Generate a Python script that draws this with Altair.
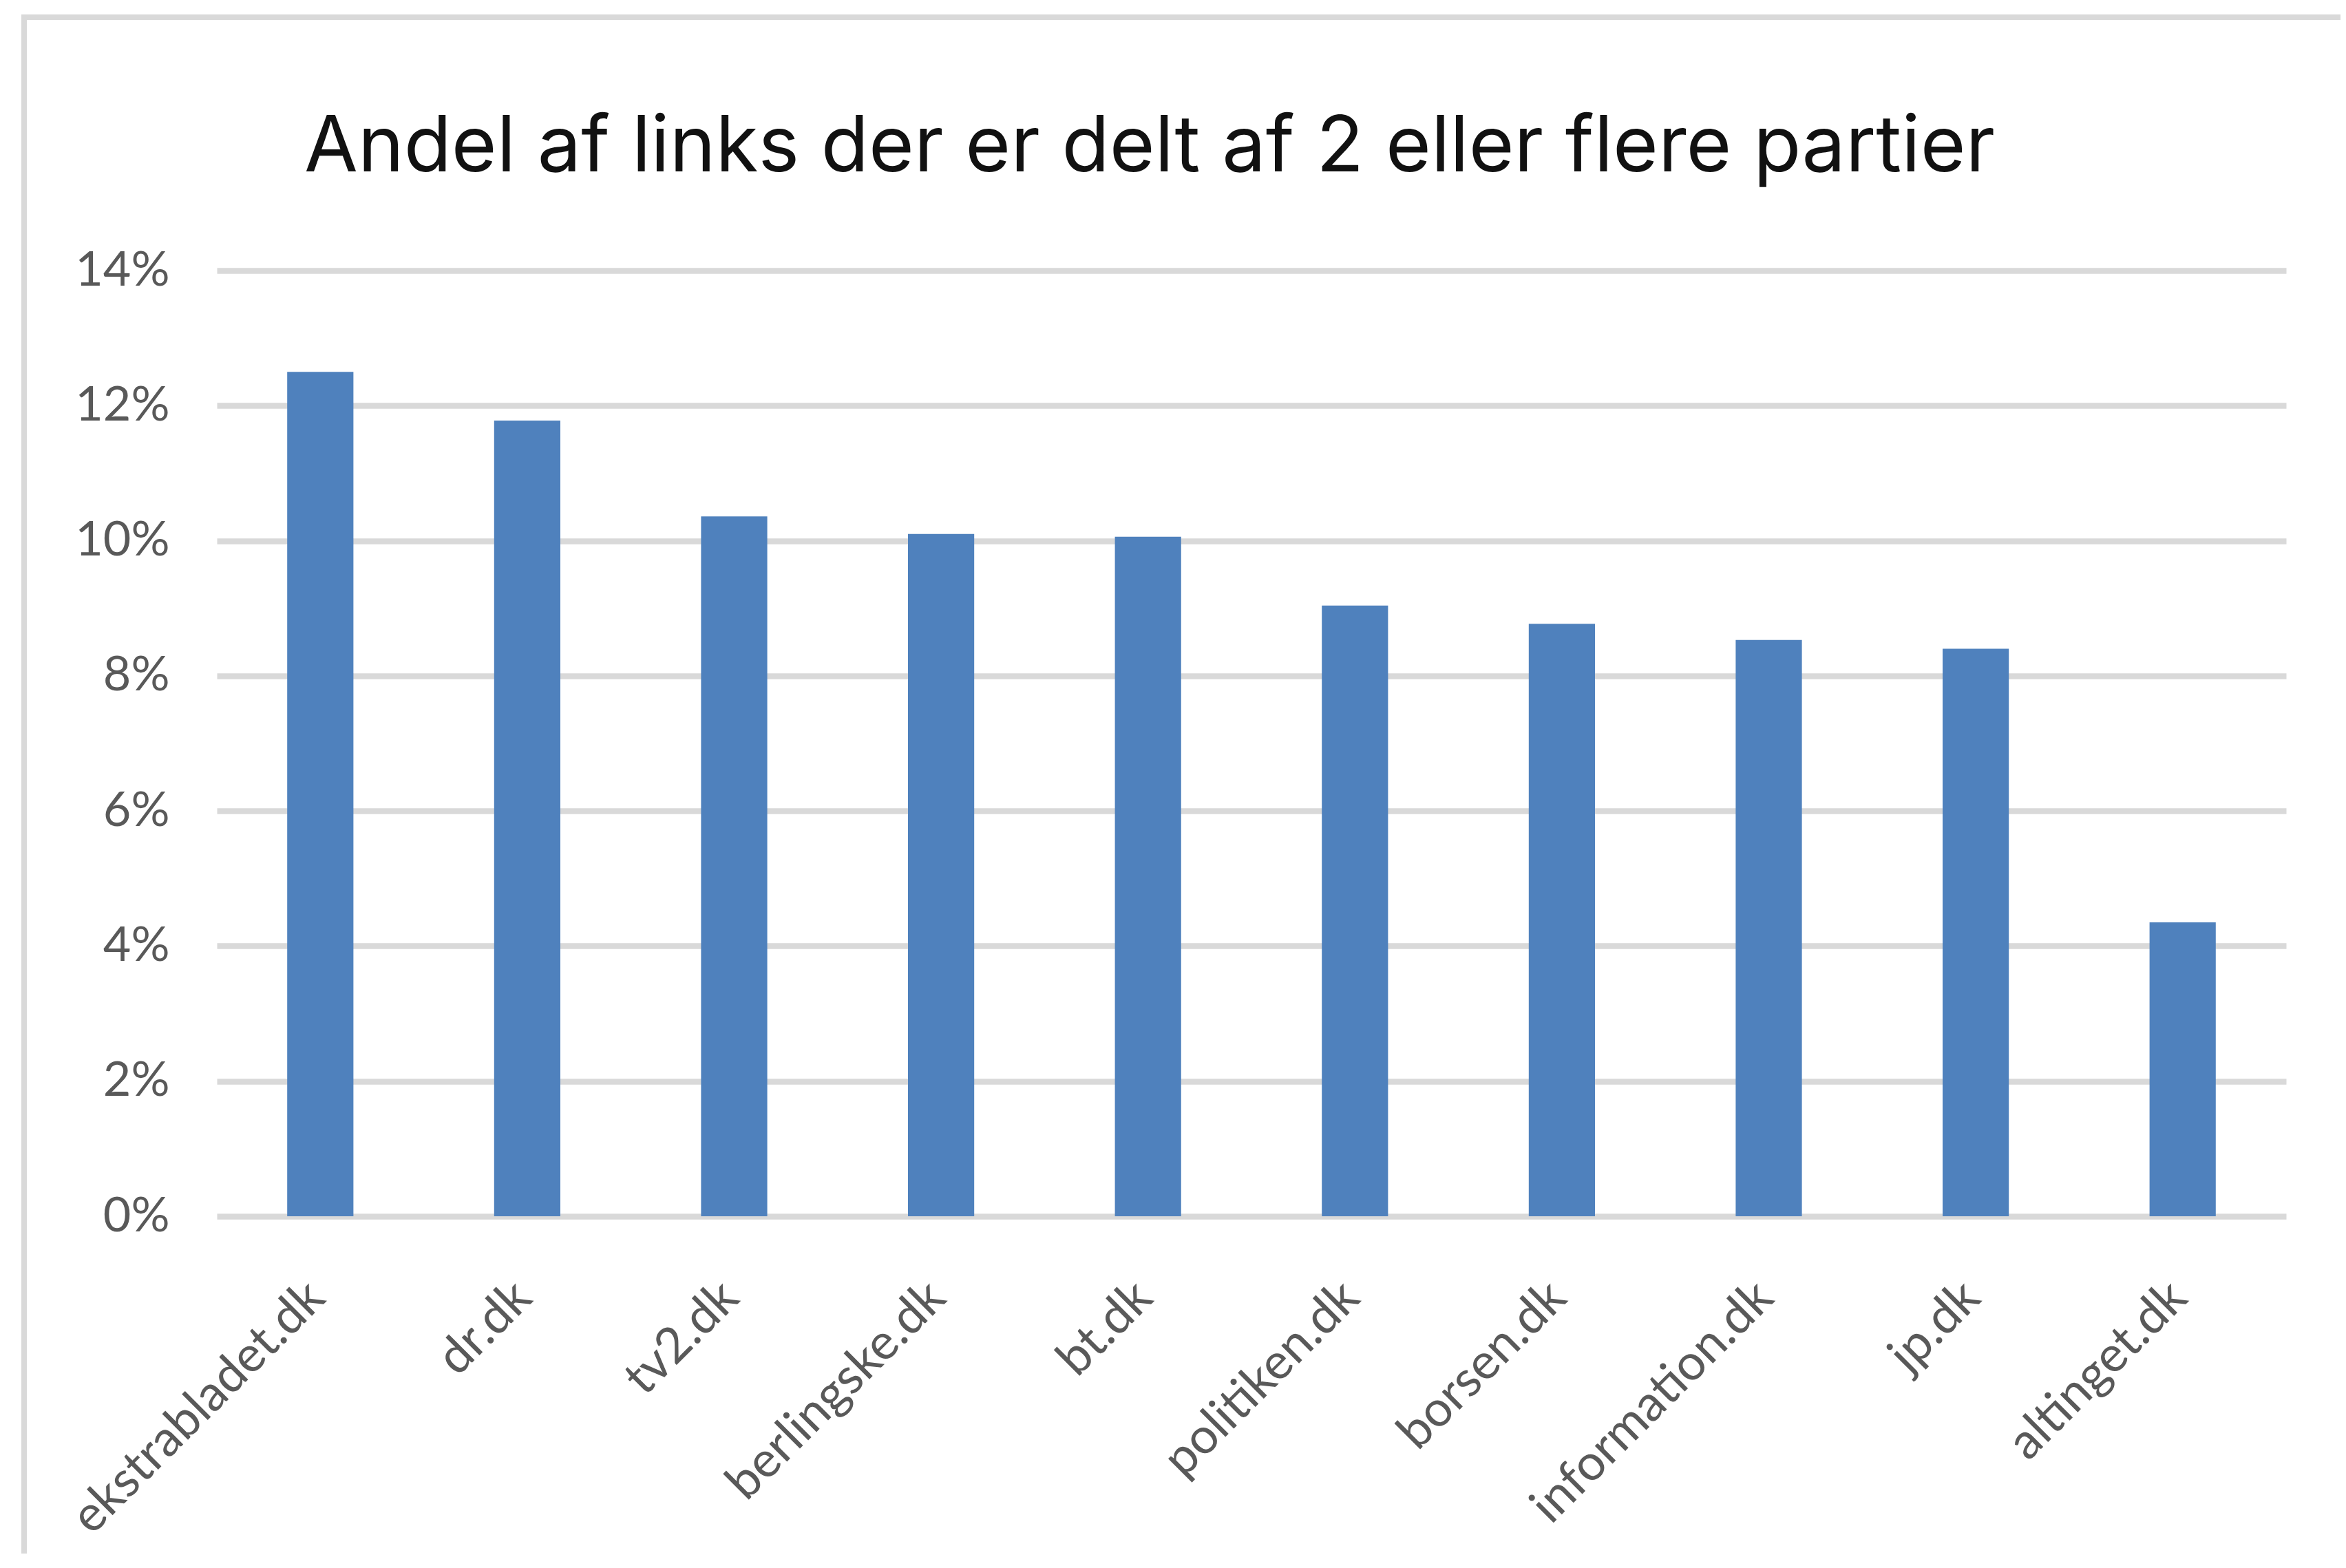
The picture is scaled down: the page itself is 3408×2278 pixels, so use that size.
import altair as alt
import pandas as pd

sites = ["ekstrabladet.dk", "dr.dk", "tv2.dk", "berlingske.dk", "bt.dk",
         "politiken.dk", "borsen.dk", "information.dk", "jp.dk", "altinget.dk"]
shares_pct = [12.50, 11.78, 10.36, 10.10, 10.06, 9.04, 8.77, 8.53, 8.40, 4.35]
y_ticks = [0, 0.02, 0.04, 0.06, 0.08, 0.10, 0.12, 0.14]
title_text = "Andel af links der er delt af 2 eller flere partier"

df = pd.DataFrame({"site": sites, "share": [v / 100 for v in shares_pct]})
border_df = pd.DataFrame({"k": [0]})

GRID = "#d9d9d9"
LABEL = "#595959"

bars = alt.Chart(df).mark_bar(color="#4F81BD").encode(
    x=alt.X(
        "site:N", sort=sites,
        scale=alt.Scale(paddingInner=0.68, paddingOuter=0.34),
        axis=alt.Axis(title=None, labelAngle=-45, labelAlign="right",
                      labelBaseline="alphabetic", labelPadding=122,
                      labelOffset=10,
                      ticks=False, domain=False, grid=False,
                      labelFont="Lato", labelFontSize=72, labelColor=LABEL,
                      labelOverlap=False, labelLimit=0),
    ),
    y=alt.Y(
        "share:Q",
        scale=alt.Scale(domain=[0, 0.14], nice=False),
        axis=alt.Axis(title=None, values=y_ticks, format=".0%", grid=True,
                      gridColor=GRID, gridWidth=8.5, domain=False, ticks=False,
                      labelPadding=69, labelFont="Lato", labelFontSize=70,
                      labelColor=LABEL),
    ),
)

left_border = alt.Chart(border_df).mark_rule(color=GRID, strokeWidth=8).encode(
    x=alt.value(-280), y=alt.value(-372), y2=alt.value(1884)
)
top_border = alt.Chart(border_df).mark_rule(color=GRID, strokeWidth=8).encode(
    x=alt.value(-284), x2=alt.value(3093), y=alt.value(-368)
)

chart = alt.layer(left_border, top_border, bars).properties(
    width=3006,
    height=1374,
    padding={"left": 307, "top": 385, "right": 79, "bottom": 490},
    autosize=alt.AutoSizeParams(type="none"),
    title=alt.TitleParams(
        text=title_text, font="Inter", fontSize=113, fontWeight="normal",
        color="#111111", anchor="middle", frame="group",
        baseline="alphabetic", offset=-345, dx=-148,
    ),
    background="white",
).configure_view(stroke=None)

chart.save("out.html", embed_options={"renderer": "svg", "actions": False})
